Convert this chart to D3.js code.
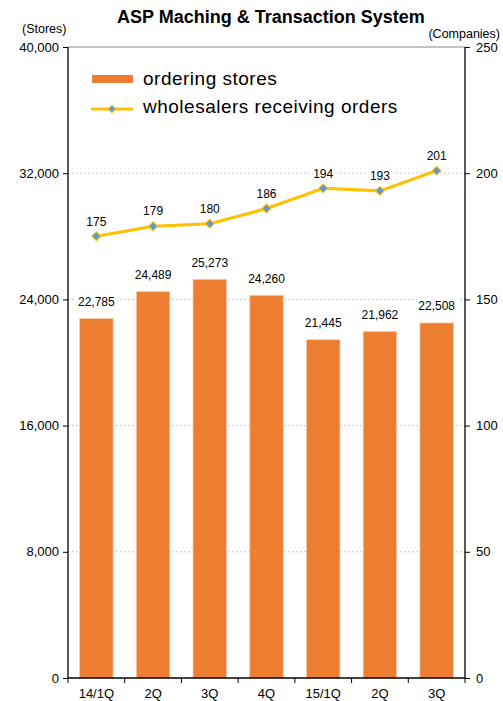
<!DOCTYPE html>
<html><head><meta charset="utf-8">
<script src="https://cdn.jsdelivr.net/npm/d3@7"></script>
<style>body{margin:0;background:#fff}svg{display:block;font-family:"Liberation Sans",Arial,sans-serif}</style>
</head><body><svg id="c" width="503" height="701"></svg>
<script>
const categories = ["14/1Q","2Q","3Q","4Q","15/1Q","2Q ","3Q "];
const stores = [22785,24489,25273,24260,21445,21962,22508];
const wholesalers = [175,179,180,186,194,193,201];
const leftTicks = [0,8000,16000,24000,32000,40000];
const rightTicks = [0,50,100,150,200,250];

const svg = d3.select("#c");
const L=68,R=465,T=47,B=678;
const x = d3.scaleBand().domain(categories).range([L,R]).paddingInner(0.41).paddingOuter(0.205);
const xc = d3.scaleBand().domain(categories).range([L,R]);
const yL = d3.scaleLinear().domain([0,40000]).range([B,T]);
const yR = d3.scaleLinear().domain([0,250]).range([B,T]);
const fmt = d3.format(",");

// gridlines
svg.append("g").selectAll("line").data(leftTicks.filter(d=>d>0&&d<40000)).join("line")
  .attr("x1",L).attr("x2",R).attr("y1",d=>yL(d)).attr("y2",d=>yL(d))
  .attr("stroke","#c8c8c8").attr("stroke-dasharray","2,2").attr("stroke-width",1);
svg.append("line").attr("x1",L).attr("x2",R).attr("y1",yL(40000)).attr("y2",yL(40000)).attr("stroke","#888").attr("stroke-width",1);

// bars
svg.append("g").selectAll("rect").data(stores).join("rect")
  .attr("x",(d,i)=>x(categories[i])).attr("width",x.bandwidth())
  .attr("y",d=>yL(d)).attr("height",d=>B-yL(d))
  .attr("fill","#ED7D31").attr("stroke","#F6C9A8").attr("stroke-width",0.8);

// axes
const axL = svg.append("g").attr("transform",`translate(${L},0)`)
  .call(d3.axisLeft(yL).tickValues(leftTicks).tickFormat(fmt).tickSize(5).tickPadding(4));
const axR = svg.append("g").attr("transform",`translate(${R},0)`)
  .call(d3.axisRight(yR).tickValues(rightTicks).tickSize(5).tickPadding(6));
const axB = svg.append("g").attr("transform",`translate(0,${B})`)
  .call(d3.axisBottom(xc).tickSize(0).tickPadding(11));
[axL,axR,axB].forEach(a=>{a.select(".domain").attr("stroke","#000").attr("stroke-width",1.3);
  a.selectAll(".tick line").attr("stroke","#000");
  a.selectAll("text").attr("font-size",13).attr("fill","#000").attr("font-family","'Liberation Sans',Arial,sans-serif");});
axL.select(".domain").attr("d",`M0,${T}V${B}`);
axR.select(".domain").attr("d",`M0,${T}V${B}`);
axB.select(".domain").attr("d",`M${L},0H${R}`);
// category boundary ticks
svg.append("g").selectAll("line").data(d3.range(categories.length+1)).join("line")
  .attr("x1",i=>L+i*xc.step()).attr("x2",i=>L+i*xc.step()).attr("y1",B).attr("y2",B+5).attr("stroke","#000");

// bar labels
const bl = svg.append("g").selectAll("g").data(stores).join("g")
  .attr("transform",(d,i)=>`translate(${x(categories[i])+x.bandwidth()/2},${yL(d)-17})`);
bl.append("rect").attr("x",-22).attr("y",-8).attr("width",44).attr("height",15).attr("fill","#fff");
bl.append("text").attr("text-anchor","middle").attr("dy","0.35em").attr("font-size",12).text(d=>fmt(d));

// line
const lx = (d,i)=>xc(categories[i])+xc.bandwidth()/2;
svg.append("path").datum(wholesalers)
  .attr("d",d3.line().x(lx).y(d=>yR(d)))
  .attr("fill","none").attr("stroke","#FFC000").attr("stroke-width",3);
svg.append("g").selectAll("path").data(wholesalers).join("path")
  .attr("transform",(d,i)=>`translate(${lx(d,i)},${yR(d)})`)
  .attr("d",d3.symbol(d3.symbolSquare,40))
  .attr("transform",(d,i)=>`translate(${lx(d,i)},${yR(d)}) rotate(45)`)
  .attr("fill","#5B9BD5").attr("stroke","#FFC000").attr("stroke-width",1);
const ll = svg.append("g").selectAll("g").data(wholesalers).join("g")
  .attr("transform",(d,i)=>`translate(${lx(d,i)},${yR(d)-15})`);
ll.append("rect").attr("x",-14).attr("y",-8).attr("width",28).attr("height",15).attr("fill","#fff");
ll.append("text").attr("text-anchor","middle").attr("dy","0.35em").attr("font-size",12).text(d=>d);

// title & unit labels
svg.append("text").attr("x",271).attr("y",23).attr("text-anchor","middle").attr("font-size",18).attr("font-weight","bold").text("ASP Maching & Transaction System");
svg.append("text").attr("x",22).attr("y",33).attr("font-size",12.5).text("(Stores)");
svg.append("text").attr("x",500).attr("y",38).attr("text-anchor","end").attr("font-size",12.5).text("(Companies)");

// legend
const lg = svg.append("g");
lg.append("rect").attr("x",92).attr("y",75).attr("width",41).attr("height",8).attr("fill","#ED7D31");
lg.append("text").attr("x",143).attr("y",78).attr("dy","0.35em").attr("font-size",19).attr("letter-spacing",0.5).text("ordering stores");
lg.append("line").attr("x1",91).attr("x2",133).attr("y1",109).attr("y2",109).attr("stroke","#FFC000").attr("stroke-width",3);
lg.append("path").attr("transform","translate(112,109) rotate(45)").attr("d",d3.symbol(d3.symbolSquare,30)).attr("fill","#5B9BD5").attr("stroke","#FFC000");
lg.append("text").attr("x",143).attr("y",106).attr("dy","0.35em").attr("font-size",19).attr("letter-spacing",0.5).text("wholesalers receiving orders");
</script></body></html>
